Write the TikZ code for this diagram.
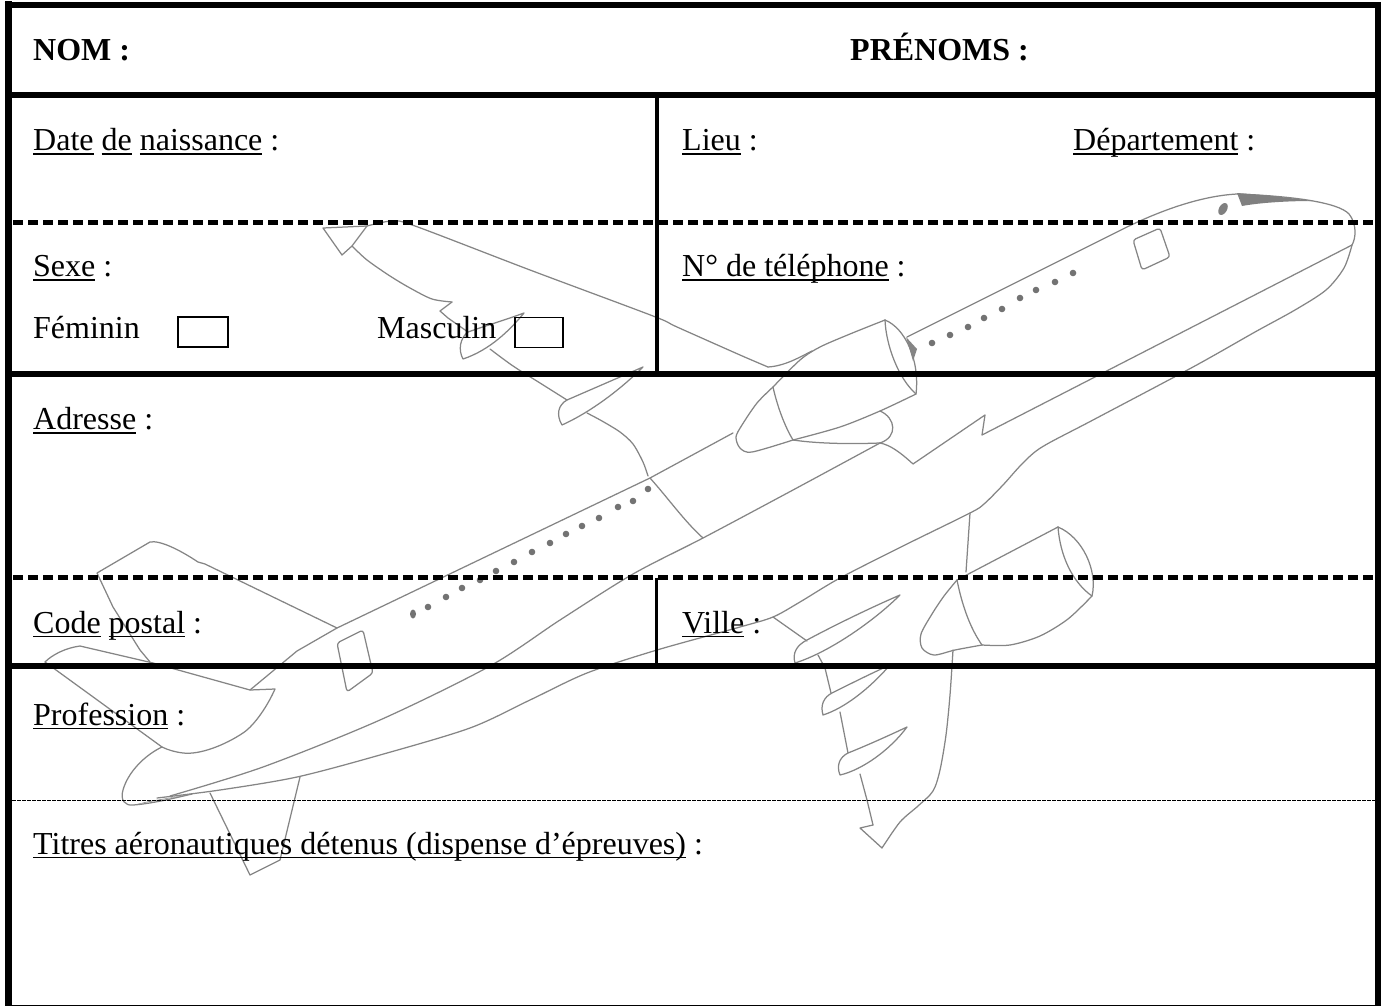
\documentclass[tikz,border=0pt]{standalone}
\usepackage{fontspec}
\setmainfont{Liberation Serif}
\newcommand\ulw[1]{\setbox0\hbox{#1}\leavevmode\rlap{\rule[-4.2pt]{\wd0}{1.7pt}}\box0\relax}
\newcommand\formfont{\fontsize{32}{38}\selectfont}
\tikzset{
  plane/.style={draw=black!48,line width=1.25pt,line join=round,line cap=round},
  win/.style={fill=black!55},
  lbl/.style={anchor=base west,inner sep=0pt,font=\formfont},
  tickbox/.style={draw,line width=1.5pt,minimum width=50pt,minimum height=30pt,inner sep=0pt},
  bigdash/.style={line width=4.5pt,dash pattern=on 9.5pt off 5.5pt},
  smalldash/.style={line width=1.5pt,dash pattern=on 3.5pt off 1.5pt}
}
\begin{document}
\begin{tikzpicture}[x=1pt,y=-1pt]
\useasboundingbox (0,0) rectangle (1381,1006);

% ================= airplane (background) =================
% fuselage top front and nose
\draw[plane] (907,337) -- (1127,227) .. controls (1160,211) and (1200,196) .. (1237,194)
  .. controls (1290,196) and (1338,202) .. (1349,214) .. controls (1357,224) and (1356,238) .. (1352,245);
% straight line nose to wing-root zigzag
\draw[plane] (1352,245) -- (982,435) -- (985,415) -- (913,464) .. controls (900,452) and (890,445) .. (880,443);
% belly
\draw[plane] plot[smooth] coordinates {(1352,245) (1344,268) (1326,290) (1295,310) (1255,332) (1193,367)
  (1093,420) (1042,447) (1022,464) (1003,485) (984,504) (970,513) (905,545) (840,578) (800,602) (773,617)
  (740,627) (657,650) (587,673) (530,700) (470,728) (380,755) (297,777) (220,790) (157,798)};
% fuselage underside
\draw[plane] plot[smooth] coordinates {(880,443) (793,490) (703,538) (633,574) (560,620) (490,666)
  (380,720) (263,767) (170,796)};
% fuselage top rear
\draw[plane] (733,433) -- (650,478) -- (337,628) -- (297,651) -- (250,690);
% fairing front edge
\draw[plane] (650,478) .. controls (668,498) and (685,522) .. (703,538);

% upper wing leading edge
\draw[plane] plot[smooth] coordinates {(367,226) (392,221) (415,226) (530,270) (653,316) (677,327) (740,355) (768,367)};
\draw[plane] (768,367) .. controls (785,366) and (800,357) .. (812,351);
% upper winglet
\draw[plane] (367,226) -- (323,228) -- (342,255) -- (352,246) -- cycle;
% upper wing trailing edge
\draw[plane] plot[smooth,tension=0.5] coordinates {(352,246) (367,260) (390,276) (410,288) (432,299) (452,302)};
\draw[plane] (452,302) -- (440,311) -- (448,318) -- (468,332);
\draw[plane] (468,332) .. controls (485,326) and (505,320) .. (524,313) .. controls (510,330) and (490,350) .. (463,359)
  .. controls (458,350) and (460,338) .. (468,332);
\draw[plane] plot[smooth] coordinates {(490,349) (513,366) (540,383) (567,400)};
\draw[plane] (567,400) .. controls (590,390) and (620,377) .. (643,367) .. controls (625,385) and (595,410) .. (562,425)
  .. controls (556,415) and (558,405) .. (567,400);
\draw[plane] plot[smooth] coordinates {(587,413) (602,421) (620,432) (633,444) (643,462) (648,476)};

% engine 1
\draw[plane] plot[smooth] coordinates {(885,320) (850,334) (820,347) (800,360) (773,387)};
\draw[plane] (885,320) .. controls (886,345) and (898,378) .. (916,394);
\draw[plane] (885,320) .. controls (905,328) and (920,360) .. (916,394);
\draw[plane] plot[smooth] coordinates {(916,394) (880,411) (840,427) (793,440)};
\draw[plane] (773,387) .. controls (777,405) and (784,425) .. (793,440);
\draw[plane] plot[smooth] coordinates {(773,387) (757,403) (742,425) (736,437) (740,448) (752,452) (793,440)};
\draw[plane] (880,411) .. controls (896,418) and (898,437) .. (880,443);
\draw[plane] (793,440) .. controls (820,444) and (855,444) .. (880,443);
\fill[black!48] (906,337) -- (917,349) -- (913,361) -- cycle;

% engine 2
\draw[plane] (970,513) -- (966,572);
\draw[plane] (957,580) -- (1058,527);
\draw[plane] (1058,527) .. controls (1060,555) and (1072,582) .. (1092,596);
\draw[plane] (1058,527) .. controls (1082,537) and (1098,570) .. (1092,596);
\draw[plane] plot[smooth] coordinates {(1092,596) (1068,619) (1040,636) (1010,645) (982,645)};
\draw[plane] (957,580) .. controls (962,605) and (970,628) .. (982,645);
\draw[plane] plot[smooth] coordinates {(957,580) (944,596) (932,614) (921,634) (922,648) (934,655) (955,650) (982,645)};

% lower wing leading edge
\draw[plane] plot[smooth] coordinates {(953,650) (950,695) (946,735) (940,770) (933,791) (918,806) (900,822) (882,848)};
% lower wing trailing edge and flap fairings
\draw[plane] (773,617) -- (807,641);
\draw[plane] (807,640) .. controls (835,625) and (870,608) .. (900,595) .. controls (875,620) and (830,652) .. (795,663)
  .. controls (792,653) and (797,645) .. (807,640);
\draw[plane] (818,655) -- (825,668) -- (831,693);
\draw[plane] (832,693) .. controls (850,684) and (872,673) .. (890,665) .. controls (870,688) and (845,708) .. (823,715)
  .. controls (820,705) and (824,697) .. (832,693);
\draw[plane] (840,712) -- (848,753);
\draw[plane] (848,753) .. controls (868,745) and (890,735) .. (907,727) .. controls (890,750) and (862,770) .. (840,775)
  .. controls (836,765) and (840,757) .. (848,753);
\draw[plane] (860,774) -- (867,800) -- (873,825);
\draw[plane] (873,825) -- (860,828) -- (882,848);

% tail
\draw[plane] (337,628) -- (205,564) -- (198,562) .. controls (180,550) and (160,540) .. (150,542)
  -- (97,573) -- (113,607) -- (140,650) -- (150,662);
\draw[plane] (45,662) .. controls (52,655) and (65,648) .. (80,646) -- (153,663) -- (250,690) -- (275,689)
  .. controls (268,705) and (255,725) .. (243,733) .. controls (225,745) and (200,755) .. (183,753)
  .. controls (175,752) and (168,750) .. (162,747) -- cycle;
\draw[plane] (162,747) .. controls (145,755) and (128,772) .. (123,790) .. controls (120,800) and (125,806) .. (133,805)
  .. controls (150,804) and (175,798) .. (192,794);
\fill[black!48] (133,805) -- (192,794) -- (150,801) -- cycle;
\draw[plane] (210,793) -- (250,875) -- (280,860) -- (300,777);

% doors
\draw[plane,rounded corners=3pt] (337,643) -- (363,630) -- (373,673) -- (347,692) -- cycle;
\draw[plane,rounded corners=3pt] (1133,240) -- (1160,228) -- (1170,257) -- (1142,270) -- cycle;

% windows
\foreach \x/\y in {428/607,446/597,462/588,480/580,496/571,514/562,532/552,550/543,566/534,582/526,599/518,618/507,633/501,648/489}
  \fill[win] (\x,\y) circle[radius=3.3];
\fill[win] (413,614) ellipse[x radius=3,y radius=4.5];
\foreach \x/\y in {932/343,950/335,968/327,984/318,1002/309,1020/298,1036/290,1055/282,1073/273}
  \fill[win] (\x,\y) circle[radius=3.3];

% cockpit
\fill[black!50] (1237,193) .. controls (1265,195) and (1292,198) .. (1312,201) .. controls (1285,201) and (1258,203) .. (1242,206) -- cycle;
\fill[black!50, rotate around={-30:(1223,209)}] (1223,209) ellipse[x radius=4,y radius=6.5];

% ================= form frame =================
\draw[line width=6pt] (4.5,5) -- (1381,5);
\draw[line width=7pt] (8,1.5) -- (8,1006);
\draw[line width=6pt] (1378,2) -- (1378,1006);
\draw[line width=1.2pt] (8,1005.2) -- (1378,1005.2);
\draw[line width=6pt] (8,95) -- (1378,95);
\draw[bigdash] (13,222.5) -- (1375,222.5);
\draw[line width=4pt] (656.7,95) -- (656.7,374);
\draw[line width=5.5pt] (8,374) -- (1378,374);
\draw[bigdash] (13,577.5) -- (1375,577.5);
\draw[line width=3.5pt] (656.5,577.5) -- (656.5,666);
\draw[line width=5.5pt] (8,666) -- (1378,666);
\draw[smalldash] (12,800.5) -- (1375,800.5);

% ================= texts =================
\node[lbl,font=\formfont\bfseries] (nom) at (33,61) {NOM :};
\node[lbl,font=\formfont\bfseries] (prenoms) at (850,61) {PRÉNOMS :};
\node[lbl] (date) at (33,150.5) {\ulw{Date} \ulw{de} \ulw{naissance} :};
\node[lbl] (lieu) at (682,150.5) {\ulw{Lieu} :};
\node[lbl] (dept) at (1073,150.5) {\ulw{Département} :};
\node[lbl] (sexe) at (33,276.5) {\ulw{Sexe} :};
\node[lbl] (tel) at (682,276.5) {\ulw{N° de téléphone} :};
\node[lbl] (fem) at (33,338) {Féminin};
\node[tickbox] (fembox) at (203,332) {};
\node[lbl] (masc) at (377,338) {Masculin};
\node[tickbox,minimum width=48pt] (mascbox) at (539,332.5) {};
\node[lbl] (adr) at (33,429.5) {\ulw{Adresse} :};
\node[lbl] (cp) at (33,633) {\ulw{Code} \ulw{postal} :};
\node[lbl] (ville) at (682,633) {\ulw{Ville} :};
\node[lbl] (prof) at (33,725) {\ulw{Profession} :};
\node[lbl] (titres) at (33,854) {\ulw{Titres aéronautiques détenus (dispense d’épreuves)} :};
\end{tikzpicture}
\end{document}
